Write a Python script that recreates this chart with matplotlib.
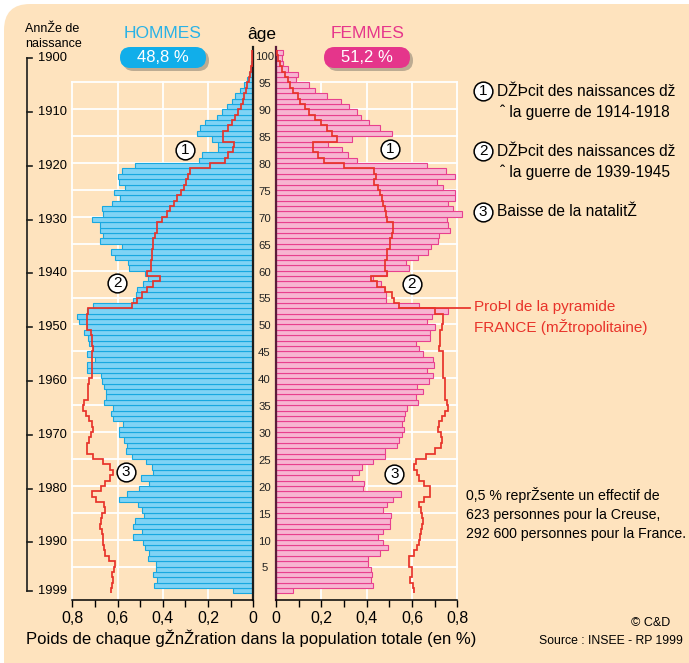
import matplotlib
matplotlib.use('Agg')
import matplotlib.pyplot as plt
import numpy as np
from matplotlib.patches import FancyBboxPatch
from matplotlib import transforms

plt.rcParams['font.family'] = ['Liberation Sans', 'DejaVu Sans']

# --- data (share of each generation in the population, %) -------------
# index = age in 1999 (0 = born 1999, 100 = born 1899)
hommes = [0.088, 0.439, 0.427, 0.445, 0.432, 0.432, 0.467, 0.460, 0.479, 0.486,
          0.533, 0.491, 0.530, 0.523, 0.482, 0.491, 0.511, 0.592, 0.557, 0.504,
          0.460, 0.498, 0.442, 0.446, 0.474, 0.535, 0.563, 0.560, 0.572, 0.592,
          0.592, 0.574, 0.619, 0.630, 0.619, 0.660, 0.653, 0.651, 0.660, 0.670,
          0.675, 0.734, 0.734, 0.700, 0.737, 0.707, 0.725, 0.729, 0.748, 0.737,
          0.769, 0.778, 0.737, 0.707, 0.533, 0.519, 0.516, 0.486, 0.464, 0.479,
          0.548, 0.552, 0.611, 0.630, 0.582, 0.678, 0.663, 0.678, 0.678, 0.714,
          0.663, 0.670, 0.626, 0.589, 0.614, 0.568, 0.593, 0.597, 0.579, 0.523,
          0.239, 0.228, 0.158, 0.156, 0.181, 0.250, 0.236, 0.212, 0.159, 0.137,
          0.118, 0.096, 0.081, 0.059, 0.041, 0.026, 0.018, 0.012, 0.008, 0.005,
          0.003]
femmes = [0.077, 0.427, 0.418, 0.423, 0.418, 0.408, 0.408, 0.460, 0.496, 0.471,
          0.452, 0.471, 0.501, 0.504, 0.507, 0.474, 0.489, 0.518, 0.551, 0.383,
          0.390, 0.337, 0.368, 0.381, 0.426, 0.482, 0.482, 0.533, 0.544, 0.555,
          0.563, 0.555, 0.566, 0.570, 0.577, 0.625, 0.617, 0.648, 0.622, 0.673,
          0.692, 0.666, 0.695, 0.692, 0.648, 0.629, 0.617, 0.681, 0.681, 0.703,
          0.666, 0.688, 0.757, 0.629, 0.486, 0.486, 0.482, 0.464, 0.430, 0.489,
          0.585, 0.573, 0.626, 0.670, 0.683, 0.713, 0.720, 0.766, 0.757, 0.754,
          0.820, 0.779, 0.757, 0.791, 0.791, 0.737, 0.710, 0.788, 0.751, 0.666,
          0.356, 0.317, 0.290, 0.228, 0.337, 0.511, 0.457, 0.411, 0.374, 0.356,
          0.324, 0.286, 0.227, 0.172, 0.147, 0.087, 0.099, 0.055, 0.032, 0.028,
          0.032]
# profile of France (métropolitaine)
hommes_fr = [0.630, 0.626, 0.622, 0.626, 0.616, 0.611, 0.636, 0.655, 0.658, 0.663,
             0.666, 0.670, 0.678, 0.673, 0.667, 0.655, 0.660, 0.695, 0.711, 0.675,
             0.655, 0.633, 0.622, 0.633, 0.666, 0.707, 0.734, 0.737, 0.725, 0.719,
             0.707, 0.711, 0.725, 0.739, 0.751, 0.748, 0.729, 0.729, 0.729, 0.725,
             0.714, 0.714, 0.714, 0.711, 0.711, 0.707, 0.711, 0.711, 0.719, 0.734,
             0.734, 0.734, 0.729, 0.538, 0.513, 0.493, 0.471, 0.442, 0.412, 0.468,
             0.454, 0.454, 0.446, 0.446, 0.442, 0.442, 0.435, 0.427, 0.424, 0.405,
             0.383, 0.368, 0.349, 0.339, 0.321, 0.306, 0.298, 0.290, 0.280, 0.190,
             0.125, 0.110, 0.088, 0.085, 0.133, 0.133, 0.110, 0.096, 0.081, 0.066,
             0.054, 0.047, 0.040, 0.032, 0.027, 0.021, 0.015, 0.011, 0.007, 0.005,
             0.004]
femmes_fr = [0.607, 0.604, 0.592, 0.600, 0.600, 0.589, 0.585, 0.607, 0.622, 0.629,
             0.636, 0.639, 0.644, 0.648, 0.644, 0.639, 0.629, 0.651, 0.681, 0.681,
             0.651, 0.633, 0.622, 0.610, 0.619, 0.663, 0.703, 0.728, 0.733, 0.728,
             0.717, 0.718, 0.733, 0.747, 0.757, 0.754, 0.747, 0.747, 0.747, 0.747,
             0.737, 0.737, 0.737, 0.737, 0.737, 0.718, 0.722, 0.722, 0.725, 0.733,
             0.737, 0.737, 0.703, 0.541, 0.521, 0.511, 0.482, 0.445, 0.418, 0.489,
             0.482, 0.482, 0.489, 0.489, 0.501, 0.501, 0.511, 0.518, 0.516, 0.489,
             0.486, 0.482, 0.474, 0.467, 0.460, 0.452, 0.433, 0.442, 0.433, 0.302,
             0.212, 0.187, 0.165, 0.165, 0.268, 0.246, 0.227, 0.197, 0.172, 0.147,
             0.128, 0.106, 0.096, 0.077, 0.062, 0.052, 0.040, 0.028, 0.018, 0.010,
             0.006]
ages = np.arange(len(hommes))
age_labels = list(range(5, 101, 5))
annees = [1900, 1910, 1920, 1930, 1940, 1950, 1960, 1970, 1980, 1990, 1999]
xticks = [0, 0.1, 0.2, 0.3, 0.4, 0.5, 0.6, 0.7, 0.8]
xticklabels = ['0', '', '0,2', '', '0,4', '', '0,6', '', '0,8']
part_h, part_f = '48,8 %', '51,2 %'

PEACH = '#fee3be'
BLUE_F, BLUE_E = '#7fd3f5', '#18a8e0'
PINK_F, PINK_E = '#f7b5d1', '#e8408e'
RED = '#e8332a'
BLUE_T, PINK_T = '#2ab2e6', '#e6368b'

W, H = 689, 663
fig = plt.figure(figsize=(W / 100, H / 100), dpi=100)
fig.patch.set_facecolor('white')

# background / annotation layer in pixel coordinates
bg = fig.add_axes([0, 0, 1, 1], zorder=0)
bg.set_xlim(0, W)
bg.set_ylim(H, 0)
bg.axis('off')
bg.add_patch(FancyBboxPatch((4, 4), W + 40, H + 40,
                            boxstyle='round,pad=0,rounding_size=26',
                            fc=PEACH, ec='none'))

top_px, bot_px = 47.4, 600
ylim = (-1.71, 101.0)
ax_l = fig.add_axes([72.3 / W, 1 - bot_px / H, 181.0 / W, (bot_px - top_px) / H], zorder=1)
ax_r = fig.add_axes([276 / W, 1 - bot_px / H, 181.3 / W, (bot_px - top_px) / H], zorder=1)

edges = np.arange(len(ages) + 1) - 0.5
for ax, vals, fr, fcol, ecol in [(ax_l, hommes, hommes_fr, BLUE_F, BLUE_E),
                                 (ax_r, femmes, femmes_fr, PINK_F, PINK_E)]:
    ax.set_facecolor('none')
    ax.set_ylim(*ylim)
    # white grid
    for g in [0.2, 0.4, 0.6, 0.8]:
        ax.plot([g, g], [ylim[0], 94.5], color='white', lw=1.3, zorder=1, clip_on=False)
    for yy in np.arange(4.5, 95, 5):
        ax.plot([0, 0.8], [yy, yy], color='white', lw=1.3, zorder=1, clip_on=False)
    bars = ax.barh(ages, vals, height=1, color=fcol, edgecolor=ecol, linewidth=0.8, zorder=2)
    for b in bars:
        b.set_clip_on(False)
    st = ax.stairs(fr, edges, orientation='horizontal', baseline=None,
                   color=RED, lw=1.25, zorder=3)
    st.set_clip_on(False)
    for s in ['top', 'left', 'right']:
        ax.spines[s].set_visible(False)
    ax.spines['bottom'].set_linewidth(1.1)
    ax.set_xticks(xticks)
    ax.set_xticklabels(xticklabels, fontsize=11.5)
    ax.tick_params(axis='x', direction='out', length=5, width=1, pad=3)
    ax.set_yticks([])

ax_l.set_xlim(0.8, 0)
ax_r.set_xlim(0, 0.8)
ax_l.spines['right'].set_visible(True)
ax_l.spines['right'].set_color('#1d1d1b')
ax_l.spines['right'].set_linewidth(1.6)
ax_r.spines['left'].set_visible(True)
ax_r.spines['left'].set_color('#5b1c3a')
ax_r.spines['left'].set_linewidth(1.6)


def cercle(ax, x, y, n):
    ax.plot(x, y, 'o', ms=13.5, mfc='white', mec='black', mew=1.1, zorder=5, clip_on=False)
    ax.text(x, y, n, ha='center', va='center', fontsize=11, zorder=6)


cercle(ax_l, 0.302, 81.9, '1')
cercle(ax_r, 0.504, 82.2, '1')
cercle(ax_l, 0.601, 57.2, '2')
cercle(ax_r, 0.600, 57.0, '2')
cercle(ax_l, 0.564, 22.0, '3')
cercle(ax_r, 0.522, 21.8, '3')

# leader to the France profile label
ax_r.plot([femmes_fr[53], 0.857], [52.5, 52.5], color=RED, lw=1.25, zorder=3, clip_on=False)

# age labels between the two halves
tr_age = transforms.blended_transform_factory(bg.transData, ax_r.transData)
for a in age_labels:
    bg.text(264.5, a - 0.85, str(a), transform=tr_age, ha='center', va='center',
            fontsize=8.2, color='#222222')

# year-of-birth axis
tr_y = transforms.blended_transform_factory(bg.transData, ax_l.transData)
bg.plot([27, 27], [1999 - annees[0], 1999 - annees[-1]], transform=tr_y, color='#1d1d1b', lw=1.2)
for yr in annees:
    bg.plot([27, 32], [1999 - yr, 1999 - yr], transform=tr_y, color='#1d1d1b', lw=1.2)
    bg.text(38, 1999 - yr, str(yr), transform=tr_y, ha='left', va='center', fontsize=9.3)
bg.text(25, 29, 'AnnŽe de', ha='left', va='center', fontsize=9)
bg.text(25, 44, 'naissance', ha='left', va='center', fontsize=9)

# headers with pills
bg.text(163, 33, 'HOMMES', ha='center', va='center', fontsize=12.5, color=BLUE_T)
bg.text(368, 33, 'FEMMES', ha='center', va='center', fontsize=12.5, color=PINK_T)
bg.text(262, 34, 'âge', ha='center', va='center', fontsize=12.5, color='black')
for x0, col, txt in [(120, '#11aeea', part_h), (324, '#e5358b', part_f)]:
    bg.add_patch(FancyBboxPatch((x0 + 3, 50), 86, 21, boxstyle='round,pad=0,rounding_size=10.5',
                                fc='#bcab92', ec='none'))
    bg.add_patch(FancyBboxPatch((x0, 47), 86, 21, boxstyle='round,pad=0,rounding_size=10.5',
                                fc=col, ec='none'))
    bg.text(x0 + 43, 57.5, txt, ha='center', va='center', fontsize=12, color='white')

# legend on the right
legend = [(91, '1', 'DŽÞcit des naissances dž', 'ˆ la guerre de 1914-1918'),
          (151, '2', 'DŽÞcit des naissances dž', 'ˆ la guerre de 1939-1945'),
          (212, '3', 'Baisse de la natalitŽ', None)]
for yy, n, l1, l2 in legend:
    cercle(bg, 483, yy, n)
    bg.text(497, yy, l1, ha='left', va='center', fontsize=11.2)
    if l2:
        bg.text(500, yy + 21, l2, ha='left', va='center', fontsize=11.2)

bg.text(474, 307, 'ProÞl de la pyramide', ha='left', va='center', fontsize=11, color=RED)
bg.text(474, 327, 'FRANCE (mŽtropolitaine)', ha='left', va='center', fontsize=11, color=RED)

for k, line in enumerate(['0,5 % reprŽsente un effectif de',
                          '623 personnes pour la Creuse,',
                          '292 600 personnes pour la France.']):
    bg.text(466.5, 495 + 19.5 * k, line, ha='left', va='center', fontsize=10.2)

bg.text(651, 623, '© C&D', ha='center', va='center', fontsize=9)
bg.text(683, 641, 'Source : INSEE - RP 1999', ha='right', va='center', fontsize=8.8)
bg.text(26, 638, 'Poids de chaque gŽnŽration dans la population totale (en %)',
        ha='left', va='center', fontsize=12)

fig.savefig('out.png', dpi=100, facecolor=fig.get_facecolor())
